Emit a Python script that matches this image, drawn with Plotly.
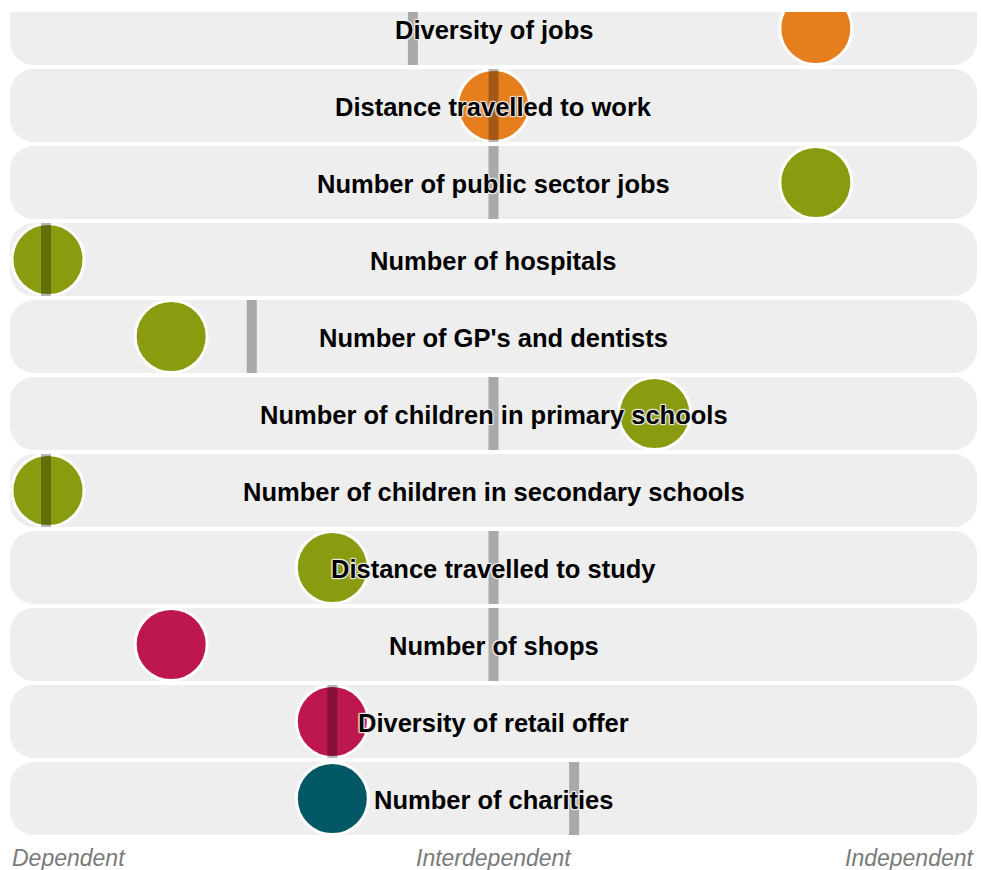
import plotly.graph_objects as go

# ---- data ----
labels = [
    "Diversity of jobs",
    "Distance travelled to work",
    "Number of public sector jobs",
    "Number of hospitals",
    "Number of GP's and dentists",
    "Number of children in primary schools",
    "Number of children in secondary schools",
    "Distance travelled to study",
    "Number of shops",
    "Diversity of retail offer",
    "Number of charities",
]
scores = [2, 0, 2, -3, -2, 1, -3, -1, -2, -1, -1]          # circle position
benchmarks = [-0.5, 0, 0, -3, -1.5, 0, -3, 0, 0, -1, 0.5]  # grey bar position
groups = ["work", "work", "health", "health", "health", "education",
          "education", "education", "retail", "retail", "community"]
group_colors = {
    "work": "#E67E1E",
    "health": "#8A9B0F",
    "education": "#8A9B0F",
    "retail": "#BE174E",
    "community": "#025864",
}
axis_labels = ["Dependent", "Interdependent", "Independent"]
x_min, x_max = -3, 3

# ---- layout geometry ----
W, H = 981, 870
ML, MR, MT, MB = 10, 4, 12, 33
plot_w = W - ML - MR
plot_h = H - MT - MB
px_per_unit = plot_w / (x_max - x_min)
row_pitch = 77.0
n = len(labels)
y_bottom = n - 0.5
y_top = y_bottom - plot_h / row_pitch

row_half_h = 36.5
row_half_w = plot_w / 2
radius = 24


def clamp(v, pad_px):
    pad = pad_px / px_per_unit
    return max(x_min + pad, min(x_max - pad, v))


def rounded_rect(hw, hh, r):
    kk = 0.5523 * r
    return (
        f"M {-hw + r},{-hh} L {hw - r},{-hh} "
        f"C {hw - r + kk},{-hh} {hw},{-hh + r - kk} {hw},{-hh + r} "
        f"L {hw},{hh - r} "
        f"C {hw},{hh - r + kk} {hw - r + kk},{hh} {hw - r},{hh} "
        f"L {-hw + r},{hh} "
        f"C {-hw + r - kk},{hh} {-hw},{hh - r + kk} {-hw},{hh - r} "
        f"L {-hw},{-hh + r} "
        f"C {-hw},{-hh + r - kk} {-hw + r - kk},{-hh} {-hw + r},{-hh} Z"
    )


fig = go.Figure()

shapes = []
# row backgrounds
for i in range(n):
    shapes.append(dict(
        type="path", layer="below",
        xref="x", yref="y", xsizemode="pixel", ysizemode="pixel",
        xanchor=(x_min + x_max) / 2, yanchor=i,
        path=rounded_rect(row_half_w, row_half_h, radius),
        fillcolor="#EEEEEE", line=dict(width=0),
    ))
# benchmark bars (semi-transparent, above circles)
for i, b in enumerate(benchmarks):
    shapes.append(dict(
        type="rect", layer="above",
        xref="x", yref="y", xsizemode="pixel", ysizemode="pixel",
        xanchor=clamp(b, 36), yanchor=i,
        x0=-5, x1=5, y0=-row_half_h, y1=row_half_h,
        fillcolor="rgba(0,0,0,0.29)", line=dict(width=0),
    ))

fig.add_trace(go.Scatter(
    x=[clamp(s, 38) for s in scores],
    y=list(range(n)),
    mode="markers",
    marker=dict(
        size=72,
        color=[group_colors[g] for g in groups],
        line=dict(color="white", width=3),
        opacity=1,
    ),
    hoverinfo="skip",
    cliponaxis=True,
    showlegend=False,
))

halo = ("1px 1px 1px #eeeeee, -1px -1px 1px #eeeeee, "
        "1px -1px 1px #eeeeee, -1px 1px 1px #eeeeee")
annotations = []
for i, lab in enumerate(labels):
    annotations.append(dict(
        x=(x_min + x_max) / 2, y=i, xref="x", yref="y",
        text=lab, showarrow=False,
        xanchor="center", yanchor="middle", yshift=-1,
        font=dict(family="Liberation Sans, Arial, sans-serif", size=25.5,
                  color="#000000", weight="bold", shadow=halo),
    ))

axis_pos = [(0, "left"), (0.5, "center"), (1, "right")]
for (px, anchor), lab in zip(axis_pos, axis_labels):
    annotations.append(dict(
        x=px, y=0, xref="paper", yref="paper",
        yanchor="middle", yshift=-(858 - (H - MB)),
        xanchor=anchor,
        text=lab, showarrow=False,
        font=dict(family="Liberation Sans, Arial, sans-serif", size=23,
                  color="#7a7a7a", style="italic"),
    ))

fig.update_layout(
    width=W, height=H,
    margin=dict(l=ML, r=MR, t=MT, b=MB, pad=0),
    paper_bgcolor="white", plot_bgcolor="white",
    shapes=shapes, annotations=annotations,
    xaxis=dict(range=[x_min, x_max], visible=False, fixedrange=True),
    yaxis=dict(range=[y_bottom, y_top], visible=False, fixedrange=True),
    showlegend=False,
)

fig.write_html(
    "out.html",
    config={"displayModeBar": False},
    post_script="document.body.style.margin='0';document.body.style.padding='0';",
)
